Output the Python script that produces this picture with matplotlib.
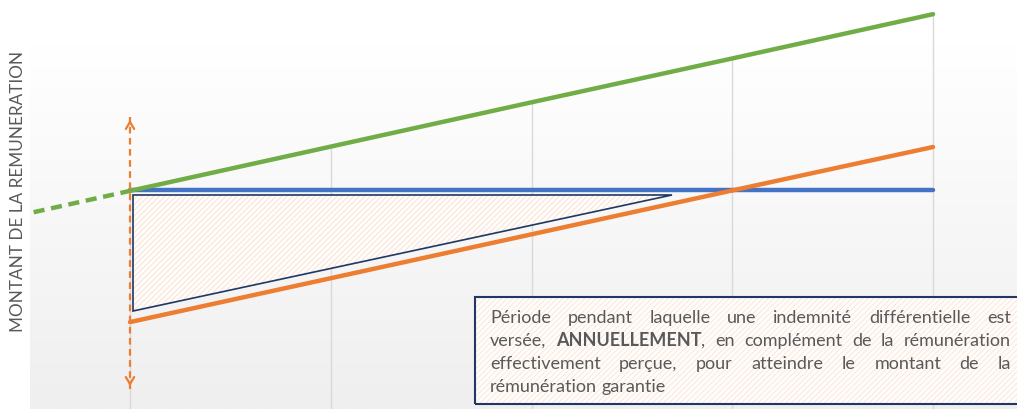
import numpy as np
import matplotlib
matplotlib.use("Agg")
from matplotlib import pyplot as plt
from matplotlib.patches import Polygon, Rectangle
from matplotlib.colors import LinearSegmentedColormap

# data (x = years, y = arbitrary amount)
years = [0, 1, 2, 3, 4]
remu_reference = [53.2, 64.0, 74.8, 85.5, 96.3]     # green
remu_garantie = [53.4, 53.4, 53.4, 53.4, 53.4]      # blue
remu_percue = [21.2, 31.9, 42.6, 53.3, 63.9]        # orange
ref_before_x = [-0.48, 0]
ref_before_y = [48.0, 53.2]
triangle_x = [0.015, 2.70, 0.015]
triangle_y = [52.2, 52.2, 23.9]
arrow_x = 0
arrow_y = [4.9, 71.2]

ylabel = "MONTANT DE LA REMUNERATION"
box_lines = [
    [[("Période", "normal")], [("pendant", "normal")], [("laquelle", "normal")], [("une", "normal")],
     [("indemnité", "normal")], [("différentielle", "normal")], [("est", "normal")]],
    [[("versée,", "normal")], [("ANNUELLEMENT", "bold"), (",", "normal")], [("en", "normal")],
     [("complément", "normal")], [("de", "normal")], [("la", "normal")], [("rémunération", "normal")]],
    [[("effectivement", "normal")], [("perçue,", "normal")], [("pour", "normal")], [("atteindre", "normal")],
     [("le", "normal")], [("montant", "normal")], [("de", "normal")], [("la", "normal")]],
    [[("rémunération", "normal")], [("garantie", "normal")]],
]

W, H = 1017, 410
plt.rcParams['font.family'] = ['Lato', 'DejaVu Sans']
plt.rcParams['hatch.linewidth'] = 0.6
fig = plt.figure(figsize=(W / 100, H / 100), dpi=100)
ax = fig.add_axes([0, 0, 1, 1])
ux = 200.75
ax.set_xlim(-130 / ux, (W - 130) / ux)
ax.set_ylim(0, 100)
ax.axis("off")

grey = "#595959"

# background panel with soft gradient
cmap = LinearSegmentedColormap.from_list("bg", ["#ffffff", "#efefef"])
grad = np.linspace(0, 1, 256).reshape(-1, 1)
ax.imshow(grad, extent=[(30 - 130) / ux, (W - 130) / ux + 0.1, 0, 89.0], aspect="auto",
          cmap=cmap, origin="upper", zorder=0)

# vertical drop lines
ax.vlines(years, 0, remu_reference, color="#d9d9d9", lw=1, zorder=1)

# triangle (hatched)
ax.add_patch(Polygon(list(zip(triangle_x, triangle_y)), closed=True, facecolor="#fffdfb",
                     edgecolor="#fbdccb", hatch="//////", lw=0, zorder=2))
ax.add_patch(Polygon(list(zip(triangle_x, triangle_y)), closed=True, fill=False,
                     edgecolor="#1f3864", lw=1.2, zorder=3))

# lines
ax.plot(ref_before_x, ref_before_y, color="#70ad47", lw=3.2, ls=(0, (2.5, 1.5)), zorder=4)
ax.plot(years, remu_garantie, color="#4472c4", lw=3.2, solid_capstyle="round", zorder=4)
ax.plot(years, remu_percue, color="#ed7d31", lw=3.2, solid_capstyle="round", zorder=5)
ax.plot(years, remu_reference, color="#70ad47", lw=3.2, solid_capstyle="round", zorder=5)

# double arrow
ax.plot([arrow_x, arrow_x], arrow_y, color="#ed7d31", lw=1.6, ls=(0, (3, 2)), zorder=6)
for yend, ystart in [(arrow_y[1], arrow_y[1] - 2), (arrow_y[0], arrow_y[0] + 2)]:
    ax.annotate("", xy=(arrow_x, yend), xytext=(arrow_x, ystart),
                arrowprops=dict(arrowstyle="->,head_length=0.5,head_width=0.3",
                                color="#ed7d31", lw=1.6), zorder=6)

# text box
bx0, by0 = (475 - 130) / ux, (410 - 405) / 4.1
bx1, by1 = (W + 20 - 130) / ux, (410 - 298) / 4.1
ax.add_patch(Rectangle((bx0, by0), bx1 - bx0, by1 - by0, facecolor="#fffdfb",
                       edgecolor="#fbe4d6", hatch="//////", lw=0, zorder=7))
ax.add_patch(Rectangle((bx0, by0), bx1 - bx0, by1 - by0, fill=False,
                       edgecolor="#1f3864", lw=1.5, zorder=8))

fig.text(18 / W, 1 - 191 / H, ylabel, rotation=90, ha="center", va="center",
         fontsize=12.35, color=grey)

# justified paragraph
renderer = fig.canvas.get_renderer()
fs = 13
left, right = 490, 1011
base_y = [323, 346, 369, 392]
for i, line in enumerate(box_lines):
    words = []
    for word in line:
        parts = []
        for s, wgt in word:
            t = fig.text(0, 0, s, fontsize=fs, fontweight=wgt, color=grey, va="baseline",
                         zorder=10)
            parts.append((t, t.get_window_extent(renderer).width))
        words.append(parts)
    widths = [sum(p[1] for p in w) for w in words]
    if i < len(box_lines) - 1:
        gap = (right - left - sum(widths)) / (len(words) - 1)
    else:
        sp = fig.text(0, 0, "a a", fontsize=fs)
        sp2 = fig.text(0, 0, "aa", fontsize=fs)
        gap = sp.get_window_extent(renderer).width - sp2.get_window_extent(renderer).width
        sp.remove()
        sp2.remove()
    x = left
    for parts, wd in zip(words, widths):
        xx = x
        for t, tw in parts:
            t.set_position((xx / W, 1 - base_y[i] / H))
            xx += tw
        x += wd + gap

fig.savefig("out.png", dpi=100)
